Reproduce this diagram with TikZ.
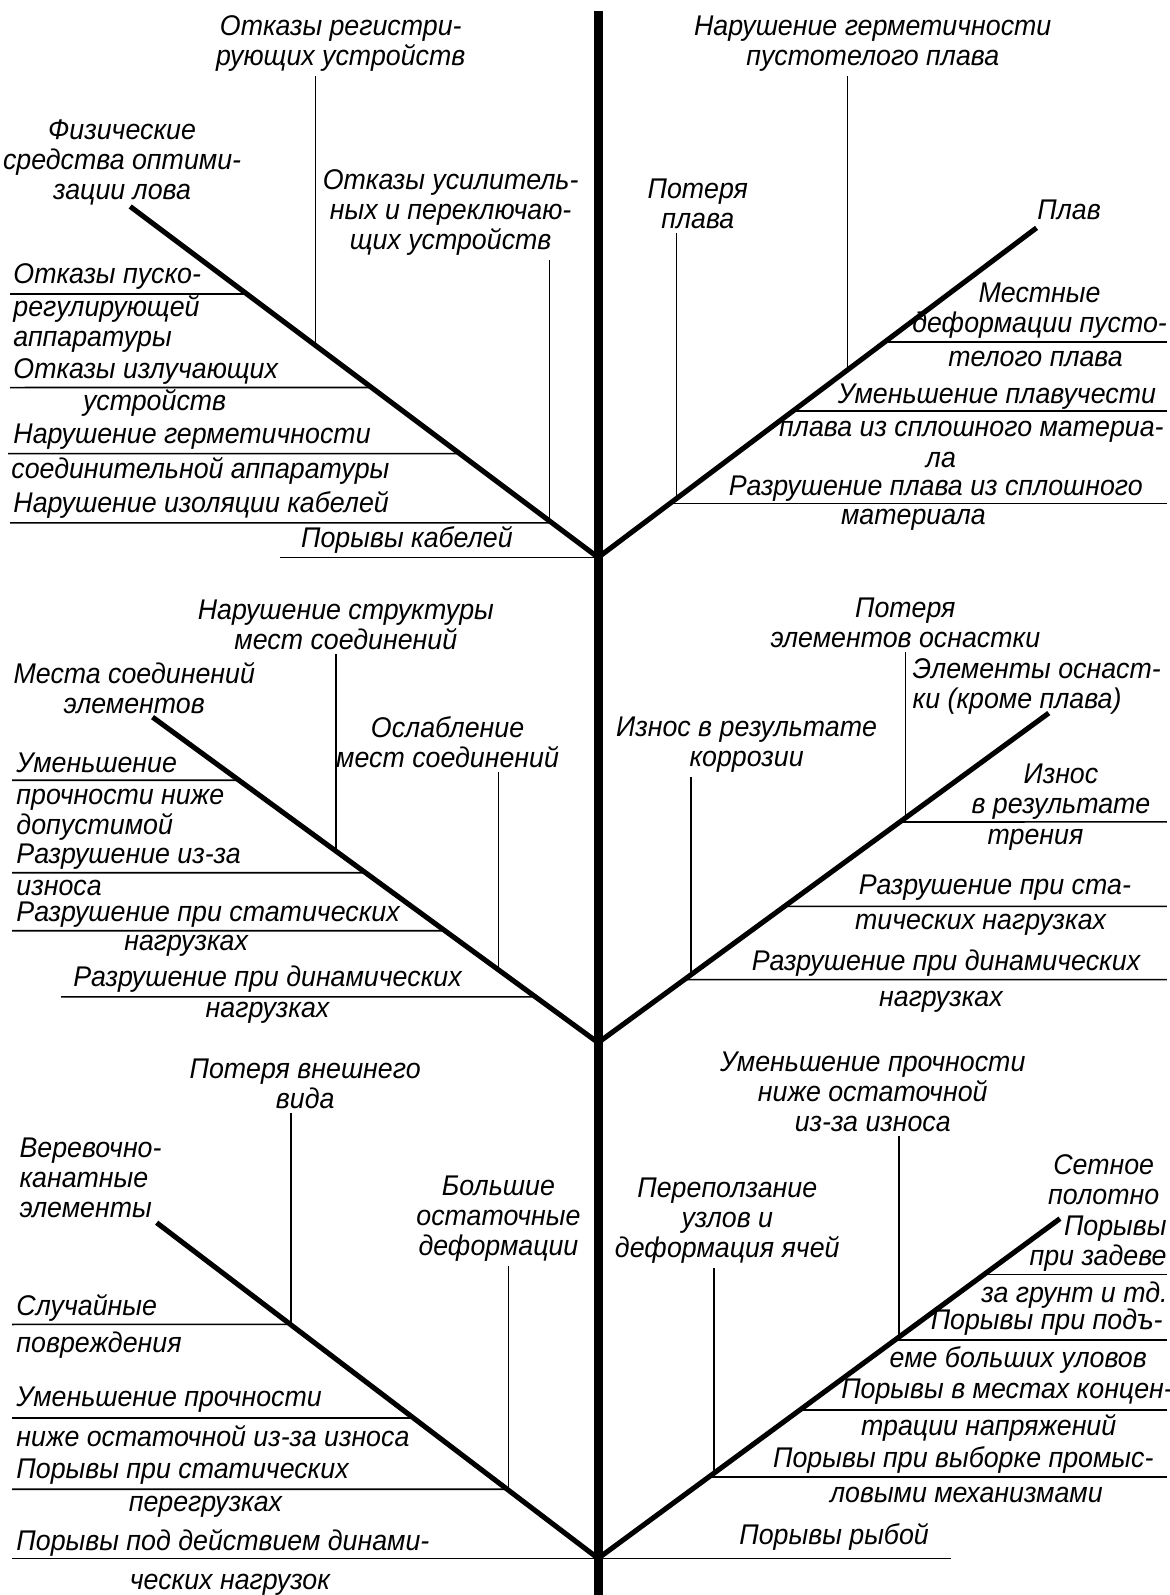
\documentclass[tikz,border=0pt]{standalone}
\usepackage{fontspec}
\setmainfont{Liberation Sans}[FakeStretch=0.94]
\usetikzlibrary{calc}

\begin{document}
\begin{tikzpicture}[x=1pt,y=-1pt,
    lbl/.style={font={\itshape\fontsize{28}{29.5}\selectfont}, inner sep=1pt, align=center},
    lbll/.style={lbl, align=left, anchor=west},
    lblr/.style={lbl, align=right, anchor=east},
    trunk/.style={line width=9pt},
    branch/.style={line width=5pt},
    twig/.style={line width=1.6pt}]

    \useasboundingbox (0,0) rectangle (1150,1568);

    \coordinate (top) at (588,11);
    \coordinate (bottom) at (588,1568);

    \coordinate (J1) at (588,548);
    \coordinate (L1) at (128,203);
    \coordinate (R1) at (1019,224);

    \coordinate (J2) at (588,1025);
    \coordinate (L2) at (150,705);
    \coordinate (R2) at (1031,701);

    \coordinate (J3) at (588,1532);
    \coordinate (L3) at (154,1202);
    \coordinate (R3) at (1042,1198);

    \draw[trunk] (top) -- (bottom);

    % upper fork
    \draw[branch] (J1) -- (L1);
    \draw[branch] (J1) -- (R1);

    \node[lbl] (regis) at (335,43) {Отказы регистри-\\рующих устройств};
    \coordinate (v11) at (intersection of J1--L1 and 310,0--310,1);
    \draw[twig] (v11) -- ($(v11 |- regis.south)+(0,3)$);

    \node[lbl] (phys) at (120,160) {Физические\\средства оптими-\\зации лова};

    \node[lbl] (usil) at (443,209) {Отказы усилитель-\\ных и переключаю-\\щих устройств};
    \coordinate (v12) at (intersection of J1--L1 and 540,0--540,1);
    \draw[twig] (v12) -- ($(v12 |- usil.south)+(0,3)$);

    \node[lbll] (pusk) at (12,272) {Отказы пуско-};
    \draw[twig] (10,289) -- (intersection of J1--L1 and 0,289--1,289);
    \node[lbll] (pusk2) at (12,318) {регулирующей\\аппаратуры};

    \node[lbll] (izl) at (12,365) {Отказы излучающих};
    \draw[twig] (10,381) -- (intersection of J1--L1 and 0,381--1,381);
    \node[lbl] (izl2) at (152,396) {устройств};

    \node[lbll] (germ) at (12,429) {Нарушение герметичности};
    \draw[twig] (8,446) -- (intersection of J1--L1 and 0,446--1,446);
    \node[lbll] (germ2) at (10,463) {соединительной аппаратуры};

    \node[lbll] (izol) at (12,496) {Нарушение изоляции кабелей};
    \draw[twig] (10,514) -- (intersection of J1--L1 and 0,514--1,514);

    \node[lbl] (kab) at (400,531) {Порывы кабелей};
    \draw[twig] (275,548) -- (J1);

    \node[lbl] (germpl) at (858,43) {Нарушение герметичности\\пустотелого плава};
    \coordinate (v13) at (intersection of J1--R1 and 833,0--833,1);
    \draw[twig] (v13) -- ($(v13 |- germpl.south)+(0,3)$);

    \node[lbl] (potpl) at (686,200) {Потеря\\плава};
    \coordinate (v14) at (intersection of J1--R1 and 665,0--665,1);
    \draw[twig] (v14) -- ($(v14 |- potpl.south)+(0,3)$);

    \node[lbl] (plav) at (1051,206) {Плав};

    \node[lbl] (mest) at (1022,305) {Местные\\деформации пусто-};
    \draw[twig] (intersection of J1--R1 and 0,336--1,336) -- (1147,336);
    \node[lbl] (mest2) at (1018,353) {телого плава};

    \node[lbl] (umpl) at (980,390) {Уменьшение плавучести};
    \draw[twig] (intersection of J1--R1 and 0,404--1,404) -- (1147,404);
    \node[lbl] (umpl2) at (955,424) {плава из сплошного материа-};
    \node[lbl] (umpl3) at (925,452) {ла};

    \node[lbl] (razpl) at (920,480) {Разрушение плава из сплошного};
    \draw[twig] (intersection of J1--R1 and 0,495--1,495) -- (1147,495);
    \node[lbl] (razpl2) at (898,511) {материала};

    % middle fork
    \draw[branch] (J2) -- (L2);
    \draw[branch] (J2) -- (R2);

    \node[lbl] (strukt) at (340,614) {Нарушение структуры\\мест соединений};
    \coordinate (v21) at (intersection of J2--L2 and 330,0--330,1);
    \draw[twig] (v21) -- ($(v21 |- strukt.south)+(0,3)$);

    \node[lbl] (mesta) at (132,676) {Места соединений\\элементов};

    \node[lbl] (oslab) at (440,730) {Ослабление\\мест соединений};
    \coordinate (v22) at (intersection of J2--L2 and 490,0--490,1);
    \draw[twig] (v22) -- ($(v22 |- oslab.south)+(0,3)$);

    \node[lbll] (umen2) at (15,750) {Уменьшение};
    \draw[twig] (12,767) -- (intersection of J2--L2 and 0,767--1,767);
    \node[lbll] (umen2b) at (15,801) {прочности ниже\\допустимой};

    \node[lbll] (razr2) at (15,842) {Разрушение из-за};
    \draw[twig] (12,858) -- (intersection of J2--L2 and 0,858--1,858);
    \node[lbll] (razr2b) at (15,873) {износа};

    \node[lbll] (stat2) at (15,899) {Разрушение при статических};
    \draw[twig] (12,915) -- (intersection of J2--L2 and 0,915--1,915);
    \node[lbl] (stat2b) at (183,930) {нагрузках};

    \node[lbl] (dyn2) at (263,963) {Разрушение при динамических};
    \draw[twig] (60,980) -- (intersection of J2--L2 and 0,980--1,980);
    \node[lbl] (dyn2b) at (263,996) {нагрузках};

    \node[lbl] (poterel) at (890,612) {Потеря\\элементов оснастки};
    \coordinate (v23) at (intersection of J2--R2 and 890,0--890,1);
    \draw[twig] (v23) -- ($(v23 |- poterel.south)+(0,3)$);

    \node[lbll] (elem) at (896,675) {Элементы оснаст-\\ки (кроме плава)};

    \node[lbl] (korr) at (734,732) {Износ в результате\\коррозии};
    \coordinate (v24) at (intersection of J2--R2 and 679,0--679,1);
    \draw[twig] (v24) -- ($(v24 |- korr.south)+(0,3)$);

    \node[lbl] (tren) at (1043,778) {Износ\\в результате};
    \draw[twig] (intersection of J2--R2 and 0,808--1,808) -- (1147,808);
    \node[lbl] (tren2) at (1018,826) {трения};

    \node[lbl] (stat3) at (978,873) {Разрушение при ста-};
    \draw[twig] (intersection of J2--R2 and 0,891--1,891) -- (1147,891);
    \node[lbl] (stat3b) at (964,909) {тических нагрузках};

    \node[lbl] (dyn3) at (930,947) {Разрушение при динамических};
    \draw[twig] (intersection of J2--R2 and 0,963--1,963) -- (1147,963);
    \node[lbl] (dyn3b) at (925,985) {нагрузках};

    % lower fork
    \draw[branch] (J3) -- (L3);
    \draw[branch] (J3) -- (R3);

    \node[lbl] (vnesh) at (300,1065) {Потеря внешнего\\вида};
    \coordinate (v31) at (intersection of J3--L3 and 286,0--286,1);
    \draw[twig] (v31) -- ($(v31 |- vnesh.south)+(0,3)$);

    \node[lbll] (verev) at (18,1158) {Веревочно-\\канатные\\элементы};

    \node[lbl] (bolsh) at (490,1198) {Большие\\остаточные\\деформации};
    \coordinate (v32) at (intersection of J3--L3 and 500,0--500,1);
    \draw[twig] (v32) -- ($(v32 |- bolsh.south)+(0,3)$);

    \node[lbll] (sluch) at (15,1286) {Случайные};
    \draw[twig] (12,1302) -- (intersection of J3--L3 and 0,1302--1,1302);
    \node[lbll] (sluch2) at (15,1322) {повреждения};

    \node[lbll] (umen3) at (15,1376) {Уменьшение прочности};
    \draw[twig] (12,1394) -- (intersection of J3--L3 and 0,1394--1,1394);
    \node[lbll] (umen3b) at (15,1412) {ниже остаточной из-за износа};

    \node[lbll] (stat4) at (15,1447) {Порывы при статических};
    \draw[twig] (12,1464) -- (intersection of J3--L3 and 0,1464--1,1464);
    \node[lbl] (stat4b) at (202,1481) {перегрузках};

    \node[lbll] (dyn4) at (15,1517) {Порывы под действием динами-};
    \draw[twig] (12,1532) -- (J3);
    \node[lbl] (dyn4b) at (226,1558) {ческих нагрузок};

    \node[lbl] (umen4) at (858,1073) {Уменьшение прочности\\ниже остаточной\\из-за износа};
    \coordinate (v33) at (intersection of J3--R3 and 884,0--884,1);
    \draw[twig] (v33) -- ($(v33 |- umen4.south)+(0,3)$);

    \node[lbl] (setn) at (1085,1160) {Сетное\\полотно};

    \node[lbl] (perepol) at (715,1200) {Переползание\\узлов и\\деформация ячей};
    \coordinate (v34) at (intersection of J3--R3 and 702,0--702,1);
    \draw[twig] (v34) -- ($(v34 |- perepol.south)+(0,3)$);

    \node[lblr] (zadev) at (1148,1223) {Порывы\\при задеве};
    \draw[twig] (intersection of J3--R3 and 0,1253--1,1253) -- (1147,1253);
    \node[lblr] (zadev2) at (1149,1273) {за грунт и тд.};

    \node[lbl] (podj) at (1029,1300) {Порывы при подъ-};
    \draw[twig] (intersection of J3--R3 and 0,1317--1,1317) -- (1147,1317);
    \node[lbl] (podj2) at (1001,1337) {еме больших уловов};

    \node[lbl] (konc) at (990,1368) {Порывы в местах концен-};
    \draw[twig] (intersection of J3--R3 and 0,1386--1,1386) -- (1147,1386);
    \node[lbl] (konc2) at (972,1404) {трации напряжений};

    \node[lbl] (vyb) at (947,1435) {Порывы при выборке промыс-};
    \draw[twig] (intersection of J3--R3 and 0,1452--1,1452) -- (1147,1452);
    \node[lbl] (vyb2) at (950,1470) {ловыми механизмами};

    \node[lbl] (ryb) at (820,1511) {Порывы рыбой};
    \draw[twig] (J3) -- (935,1532);

\end{tikzpicture}
\end{document}
